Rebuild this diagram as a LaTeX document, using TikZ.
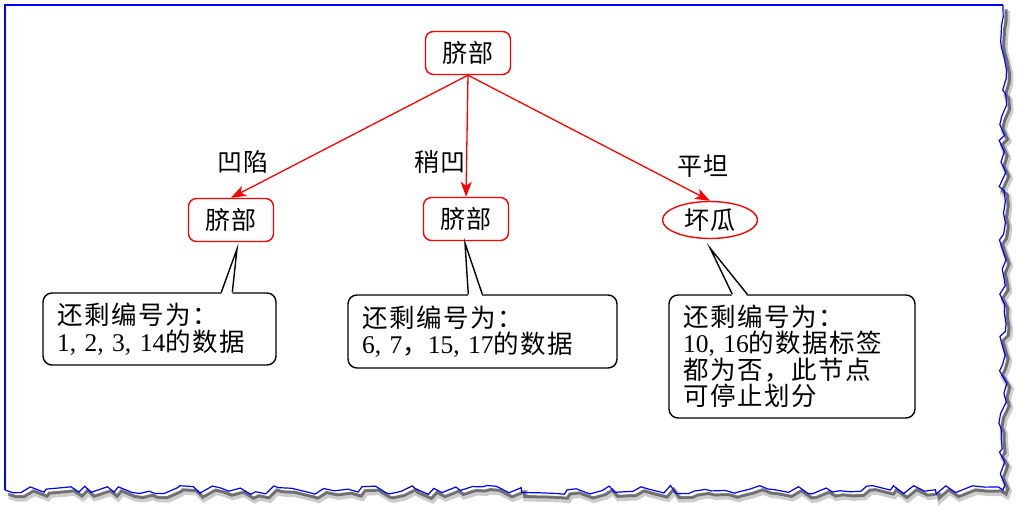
\documentclass[tikz,border=0pt]{standalone}
\usepackage{fontspec}
\setmainfont{Liberation Serif}
\newfontfamily\cjk[LetterSpace=6]{Noto Sans CJK SC}
\usetikzlibrary{positioning,arrows.meta,shapes.geometric,decorations.pathmorphing}

\tikzset{
  split/.style={draw=red, line width=1.4pt, rounded corners=8pt, minimum width=85pt, minimum height=43pt, inner sep=0pt, font=\fontsize{25}{28}\selectfont\cjk},
  leaf/.style={draw=red, line width=1.4pt, ellipse, minimum width=95pt, minimum height=37pt, inner sep=0pt, font=\fontsize{25}{28}\selectfont\cjk},
  branch/.style={draw=red, line width=1.3pt, -{Stealth[length=15pt,width=11pt,inset=4pt]}},
  tag/.style={font=\fontsize{25}{28}\selectfont\cjk},
  note/.style={draw, line width=1.4pt, rounded corners=9pt, align=left, inner xsep=14pt, inner ysep=0pt, font=\fontsize{25.5}{26.5}\selectfont},
}

\begin{document}
\begin{tikzpicture}[x=1pt, y=-1pt]
  \useasboundingbox (0,0) rectangle (1021,510);
  % torn paper frame
  \pgfmathsetseed{11}
  \draw[black, opacity=0.2, line width=6pt, shift={(4,6)}, decorate, decoration={random steps, segment length=9pt, amplitude=4.5pt}] (1003,5) -- (1003,490) -- (5,490);
  \pgfmathsetseed{11}
  \draw[black, opacity=0.45, line width=3pt, shift={(3,4)}, decorate, decoration={random steps, segment length=9pt, amplitude=4.5pt}] (1003,5) -- (1003,490) -- (5,490);
  \pgfmathsetseed{11}
  \draw[blue, line width=1.2pt, decorate, decoration={random steps, segment length=9pt, amplitude=4.5pt}] (1003,5) -- (1003,490) -- (5,490);
  \draw[blue, line width=1.2pt] (1003,5) -- (5,5) -- (5,490);

  % tree
  \node[split] (root) at (468,53) {脐部};
  \node[split] (n1) at (231,220) {脐部};
  \node[split] (n2) at (466,219) {脐部};
  \node[leaf] (n3) at (710,220) {坏瓜};
  \node[tag] (l1) at (243,162) {凹陷};
  \node[tag] (l2) at (440,162) {稍凹};
  \node[tag] (l3) at (703,166) {平坦};
  \draw[branch] (root.south) -- (n1.north);
  \draw[branch] (root.south) -- (n2.north);
  \draw[branch] (root.south) -- (n3.north);

  % notes
  \node[note, text width=205pt, minimum height=72pt] (c1) at (159.5,329) {{\cjk 还剩编号为：}\\1, 2, 3, 14{\cjk 的数据}};
  \node[note, text width=241pt, minimum height=73pt] (c2) at (482.5,331.5) {{\cjk 还剩编号为：}\\6, 7{\cjk ，}15, 17{\cjk 的数据}};
  \node[note, text width=218pt, minimum height=123pt] (c3) at (792,356.5) {{\cjk 还剩编号为：}\\10, 16{\cjk 的数据标签}\\{\cjk 都为否，此节点}\\{\cjk 可停止划分}};
  \coordinate (t1) at (237,249);
  \coordinate (t2) at (465,243);
  \coordinate (t3) at (710,248);
  \fill[white] (t1) -- ([xshift=179pt,yshift=-2pt]c1.north west) -- ([xshift=190pt,yshift=-2pt]c1.north west) -- cycle;
  \draw[line width=1.4pt] ([xshift=179pt]c1.north west) -- (t1) -- ([xshift=190pt]c1.north west);
  \fill[white] (t2) -- ([xshift=121pt,yshift=-2pt]c2.north west) -- ([xshift=135pt,yshift=-2pt]c2.north west) -- cycle;
  \draw[line width=1.4pt] ([xshift=121pt]c2.north west) -- (t2) -- ([xshift=135pt]c2.north west);
  \fill[white] (t3) -- ([xshift=64pt,yshift=-2pt]c3.north west) -- ([xshift=79pt,yshift=-2pt]c3.north west) -- cycle;
  \draw[line width=1.4pt] ([xshift=64pt]c3.north west) -- (t3) -- ([xshift=79pt]c3.north west);
\end{tikzpicture}
\end{document}
